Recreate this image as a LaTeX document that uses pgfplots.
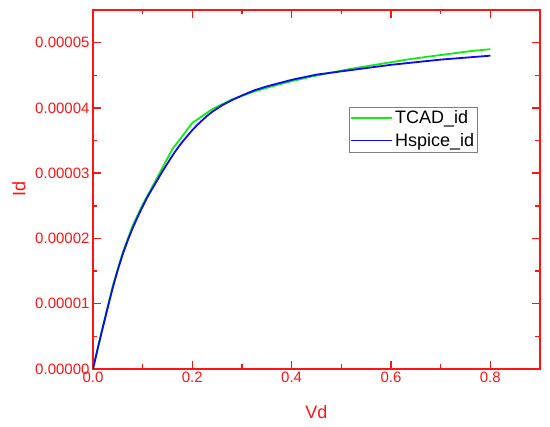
\documentclass[border=0pt]{standalone}
\usepackage{pgfplots}
\pgfplotsset{compat=1.18}
\usepackage{fontspec}
\setmainfont{Liberation Sans}
\definecolor{axred}{RGB}{255,20,20}
\definecolor{tgreen}{RGB}{20,235,20}
\definecolor{hblue}{RGB}{10,10,245}
\begin{document}
\begin{tikzpicture}
\path[use as bounding box] (-93pt,-58pt) rectangle (457pt,369pt);
\begin{axis}[
  at={(0,0)}, anchor=south west,
  width=447pt, height=359pt, scale only axis,
  xmin=0, xmax=0.9, ymin=0, ymax=0.000055,
  xtick={0,0.2,0.4,0.6,0.8},
  ytick={0,0.00001,0.00002,0.00003,0.00004,0.00005},
  minor x tick num=1, minor y tick num=1,
  scaled y ticks=false, scaled x ticks=false,
  xticklabel style={/pgf/number format/.cd, fixed, fixed zerofill, precision=1},
  yticklabel style={/pgf/number format/.cd, fixed, fixed zerofill, precision=5},
  /pgf/number format/assume math mode=true,
  tick label style={font=\fontsize{15}{15}\selectfont, text=axred},
  axis line style={axred, line width=1.3pt},
  tick style={axred, line width=1.4pt},
  major tick length=8pt, minor tick length=4.5pt,
  xlabel={Vd}, ylabel={Id},
  every axis x label/.style={at={([yshift=-42.7pt]axis description cs:0.5,0)}, anchor=center, font=\fontsize{18}{18}\selectfont, text=axred},
  every axis y label/.style={at={([xshift=-74pt]axis description cs:0,0.5)}, anchor=center, rotate=90, font=\fontsize{18}{18}\selectfont, text=axred},
  legend style={at={(0.573,0.731)}, anchor=north west, draw=gray, fill=white,
    font=\fontsize{18}{20}\selectfont, inner xsep=1pt, inner ysep=2pt, row sep=4pt},
  legend cell align=left,
  legend image post style={xscale=2.4},
]
\addplot[draw=tgreen, line width=1.8pt] coordinates {
(0,0) (0.02,0.0000066) (0.04,0.0000128) (0.06,0.0000179) (0.08,0.0000220)
(0.10,0.0000252) (0.12,0.0000280) (0.16,0.0000337)
(0.20,0.0000377) (0.24,0.0000398) (0.28,0.0000413) (0.32,0.0000424)
(0.36,0.0000433) (0.40,0.0000441) (0.44,0.0000448) (0.48,0.0000454)
(0.52,0.0000460) (0.56,0.0000465) (0.60,0.0000470) (0.64,0.0000475)
(0.68,0.0000479) (0.72,0.0000483) (0.76,0.0000487) (0.80,0.0000490)
};
\addlegendentry{TCAD\_id}
\addplot[draw=hblue, line width=1.8pt] coordinates {
(0,0) (0.01,0.0000033) (0.02,0.0000064) (0.03,0.0000095) (0.04,0.0000125)
(0.05,0.0000152) (0.06,0.0000176) (0.07,0.0000197) (0.08,0.0000216)
(0.09,0.0000233) (0.10,0.0000249) (0.11,0.0000264) (0.12,0.0000277)
(0.13,0.0000290) (0.14,0.0000303) (0.15,0.0000315) (0.16,0.0000327)
(0.17,0.0000338) (0.18,0.0000348) (0.19,0.0000357) (0.20,0.0000366)
(0.21,0.0000374) (0.22,0.0000381) (0.23,0.0000388) (0.24,0.0000394)
(0.25,0.0000399) (0.26,0.0000404) (0.27,0.0000408) (0.28,0.0000412)
(0.30,0.0000419) (0.325,0.0000427) (0.35,0.0000433) (0.375,0.0000438)
(0.40,0.0000443) (0.45,0.0000451) (0.50,0.0000456) (0.55,0.0000461)
(0.60,0.0000466) (0.65,0.0000470) (0.70,0.0000474) (0.75,0.0000477)
(0.80,0.0000480)
};
\addlegendentry{Hspice\_id}
\end{axis}
\end{tikzpicture}
\end{document}
